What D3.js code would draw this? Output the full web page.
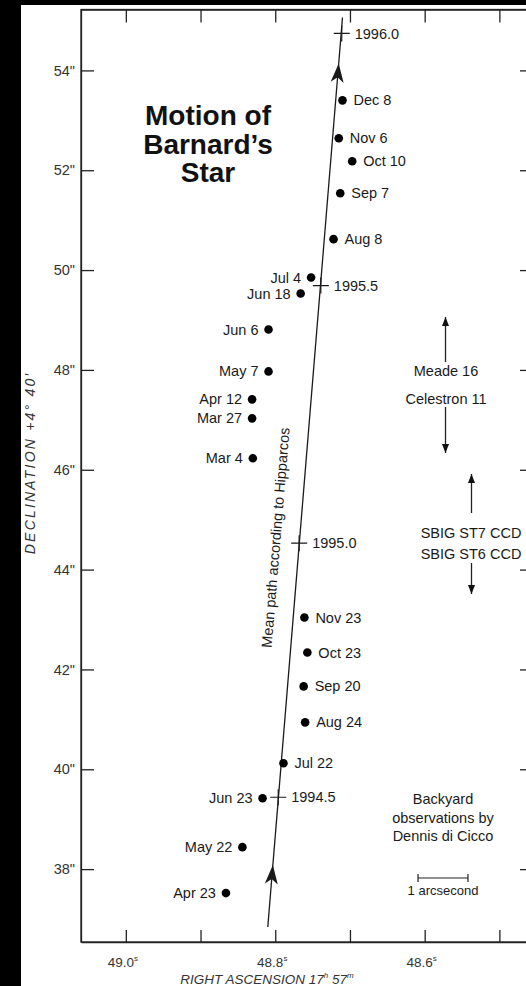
<!DOCTYPE html>
<html><head><meta charset="utf-8">
<script src="https://cdn.jsdelivr.net/npm/d3@7"></script>
<style>html,body{margin:0;padding:0;background:#000;} svg{display:block;}</style>
</head><body>
<script>
// ---- data ----
const obsLabels = ["Apr 23","May 22","Jun 23","Jul 22","Aug 24","Sep 20","Oct 23","Nov 23",
                   "Mar 4","Mar 27","Apr 12","May 7","Jun 6","Jun 18","Jul 4","Aug 8","Sep 7","Oct 10","Nov 6","Dec 8"];
const obsRA  = [48.866,48.844,48.817,48.789,48.760,48.762,48.757,48.761,
                48.830,48.831,48.831,48.809,48.809,48.766,48.752,48.722,48.713,48.697,48.715,48.710];
const obsDec = [37.52,38.44,39.42,40.12,40.94,41.66,42.34,43.04,
                46.23,47.03,47.41,47.97,48.81,49.53,49.85,50.62,51.54,52.18,52.64,53.40];
const epochLabels = ["1994.5","1995.0","1995.5","1996.0"];
const epochRA  = [48.796,48.768,48.739,48.711];
const epochDec = [39.44,44.53,49.69,54.74];
const pathRA  = [48.810,48.710];
const pathDec = [36.84,55.06];
const arrowDec = [38.08,54.14];
const pathLabel = "Mean path according to Hipparcos";
const pathLabelDec = 44.6;
const raTicks = [49.0,48.9,48.8,48.7,48.6,48.5];
const raTickLabels = ["49.0","","48.8","","48.6",""];
const decTicks = [38,40,42,44,46,48,50,52,54];
const decTickLabels = ['38"','40"','42"','44"','46"','48"','50"','52"','54"'];
const titleLines = ["Motion of","Barnard’s","Star"];
const noteLines = ["Backyard","observations by","Dennis di Cicco"];
const scaleBarArcsec = 1;

// ---- setup ----
const W = 526, H = 986;
const FONT = "'Liberation Sans', Arial, Helvetica, sans-serif";
const svg = d3.select("body").append("svg").attr("width", W).attr("height", H)
  .style("font-family", FONT);
svg.append("rect").attr("width", W).attr("height", H).attr("fill", "#000");
svg.append("rect").attr("x", 21).attr("y", 5).attr("width", W - 21).attr("height", H - 5).attr("fill", "#fff");

const frame = {l: 81, t: 9.5, r: 533, b: 942};
const x = d3.scaleLinear().domain([49.06, 48.455]).range([frame.l, frame.r]);
const y = d3.scaleLinear().domain([36.54, 55.22]).range([frame.b, frame.t]);

const ink = "#1a1a1a";

// frame
svg.append("rect").attr("x", frame.l).attr("y", frame.t)
  .attr("width", frame.r - frame.l).attr("height", frame.b - frame.t)
  .attr("fill", "none").attr("stroke", "#222").attr("stroke-width", 1.3);

// axes
const gL = svg.append("g").attr("transform", `translate(${frame.l},0)`)
  .call(d3.axisLeft(y).tickValues(decTicks).tickFormat((d, i) => decTickLabels[i])
        .tickSizeInner(-13).tickSizeOuter(0).tickPadding(6));
const gR = svg.append("g").attr("transform", `translate(${frame.r},0)`)
  .call(d3.axisRight(y).tickValues(decTicks).tickFormat("").tickSizeInner(-13).tickSizeOuter(0));
const gB = svg.append("g").attr("transform", `translate(0,${frame.b})`)
  .call(d3.axisBottom(x).tickValues(raTicks).tickFormat("").tickSizeInner(-12).tickSizeOuter(0));
const gT = svg.append("g").attr("transform", `translate(0,${frame.t})`)
  .call(d3.axisTop(x).tickValues(raTicks).tickFormat("").tickSizeInner(-13).tickSizeOuter(0));
[gL, gR, gB, gT].forEach(g => {
  g.select(".domain").attr("stroke", "#222").attr("stroke-width", 1.3);
  g.selectAll(".tick line").attr("stroke", "#222").attr("stroke-width", 1.3);
});
gL.selectAll(".tick text").attr("font-size", 14.5).attr("fill", "#333").attr("font-family", FONT);

// bottom tick labels with superscript s
raTicks.forEach((v, i) => {
  if (!raTickLabels[i]) return;
  const t = svg.append("text").attr("x", x(v) - 3).attr("y", 967)
    .attr("text-anchor", "middle").attr("font-size", 13.5).attr("fill", "#333");
  t.append("tspan").text(raTickLabels[i]);
  t.append("tspan").attr("font-size", 8).attr("dy", -6).text("s");
});

// axis titles
const xt = svg.append("text").attr("x", 267).attr("y", 984).attr("text-anchor", "middle")
  .attr("font-size", 13.5).attr("font-style", "italic").attr("fill", "#333");
xt.append("tspan").text("RIGHT  ASCENSION  17");
xt.append("tspan").attr("font-size", 8).attr("dy", -6).text("h");
xt.append("tspan").attr("dy", 6).text(" 57");
xt.append("tspan").attr("font-size", 8).attr("dy", -6).text("m");

svg.append("text").attr("transform", "translate(35,463) rotate(-90)")
  .attr("text-anchor", "middle").attr("font-size", 14).attr("font-style", "italic")
  .attr("letter-spacing", 2.2)
  .attr("fill", "#333").text("DECLINATION  +4° 40′");

// title
titleLines.forEach((s, i) => {
  svg.append("text").attr("x", 208).attr("y", 125 + i * 28.5).attr("text-anchor", "middle")
    .attr("font-size", 28).attr("font-weight", "bold").attr("fill", "#111").text(s);
});

// mean path
const p0 = [x(pathRA[0]), y(pathDec[0])], p1 = [x(pathRA[1]), y(pathDec[1])];
svg.append("line").attr("x1", p0[0]).attr("y1", p0[1]).attr("x2", p1[0]).attr("y2", p1[1])
  .attr("stroke", ink).attr("stroke-width", 1.3);
const ang = Math.atan2(p1[1] - p0[1], p1[0] - p0[0]) * 180 / Math.PI;
const raAtDec = d => pathRA[0] + (pathRA[1] - pathRA[0]) * (d - pathDec[0]) / (pathDec[1] - pathDec[0]);

// arrowheads on path
arrowDec.forEach(d => {
  svg.append("path").attr("transform", `translate(${x(raAtDec(d))},${y(d)}) rotate(${ang})`)
    .attr("d", "M0,0 L-19,-6.5 L-14,0 L-19,6.5 Z").attr("fill", ink);
});

// path label
svg.append("text").attr("transform", `translate(${x(raAtDec(pathLabelDec))},${y(pathLabelDec)}) rotate(${ang})`)
  .attr("y", -19).attr("text-anchor", "middle").attr("font-size", 14.5).attr("fill", ink).text(pathLabel);

// epoch crosses
epochLabels.forEach((lab, i) => {
  const cx = x(epochRA[i]), cy = y(epochDec[i]);
  svg.append("path").attr("d", `M${cx - 8},${cy}H${cx + 8}M${cx},${cy - 8}V${cy + 8}`)
    .attr("stroke", ink).attr("stroke-width", 1.2);
  svg.append("text").attr("x", cx + 13).attr("y", cy).attr("dy", "0.35em")
    .attr("font-size", 14.5).attr("fill", ink).text(lab);
});

// observations
obsLabels.forEach((lab, i) => {
  const cx = x(obsRA[i]), cy = y(obsDec[i]);
  const right = obsRA[i] < raAtDec(obsDec[i]); // east of path -> label on right
  svg.append("circle").attr("cx", cx).attr("cy", cy).attr("r", 4.3).attr("fill", "#000");
  svg.append("text").attr("x", right ? cx + 11 : cx - 10).attr("y", cy).attr("dy", "0.35em")
    .attr("text-anchor", right ? "start" : "end")
    .attr("font-size", 14.5).attr("fill", ink).text(lab);
});

// instrument annotations
function vArrow(xp, yFrom, yTip) {
  svg.append("line").attr("x1", xp).attr("x2", xp).attr("y1", yFrom).attr("y2", yTip)
    .attr("stroke", "#222").attr("stroke-width", 1.3);
  const s = yTip < yFrom ? 1 : -1;
  svg.append("path").attr("d", `M${xp},${yTip}L${xp - 3.5},${yTip + s * 9}L${xp + 3.5},${yTip + s * 9}Z`)
    .attr("fill", "#111");
}
vArrow(445.5, 362, 317);
vArrow(445.5, 407, 453);
svg.append("text").attr("x", 446).attr("y", 376).attr("text-anchor", "middle").attr("font-size", 14.5).attr("fill", ink).text("Meade 16");
svg.append("text").attr("x", 446).attr("y", 404).attr("text-anchor", "middle").attr("font-size", 14.5).attr("fill", ink).text("Celestron 11");
vArrow(471.5, 513, 474);
vArrow(471.5, 563, 594);
svg.append("text").attr("x", 471).attr("y", 538).attr("text-anchor", "middle").attr("font-size", 14.5).attr("fill", ink).text("SBIG ST7 CCD");
svg.append("text").attr("x", 471).attr("y", 559).attr("text-anchor", "middle").attr("font-size", 14.5).attr("fill", ink).text("SBIG ST6 CCD");

// note + scale bar
noteLines.forEach((s, i) => {
  svg.append("text").attr("x", 443).attr("y", 804 + i * 18.5).attr("text-anchor", "middle")
    .attr("font-size", 14.5).attr("fill", ink).text(s);
});
const barLen = y(36.54) - y(36.54 + scaleBarArcsec);
const bx0 = 443 - barLen / 2, bx1 = 443 + barLen / 2, by = 878;
svg.append("path").attr("d", `M${bx0},${by}H${bx1}M${bx0},${by - 4}V${by + 4}M${bx1},${by - 4}V${by + 4}`)
  .attr("stroke", "#222").attr("stroke-width", 1.2).attr("fill", "none");
svg.append("text").attr("x", 443).attr("y", 895).attr("text-anchor", "middle")
  .attr("font-size", 13).attr("fill", ink).text("1 arcsecond");
</script>
</body></html>
